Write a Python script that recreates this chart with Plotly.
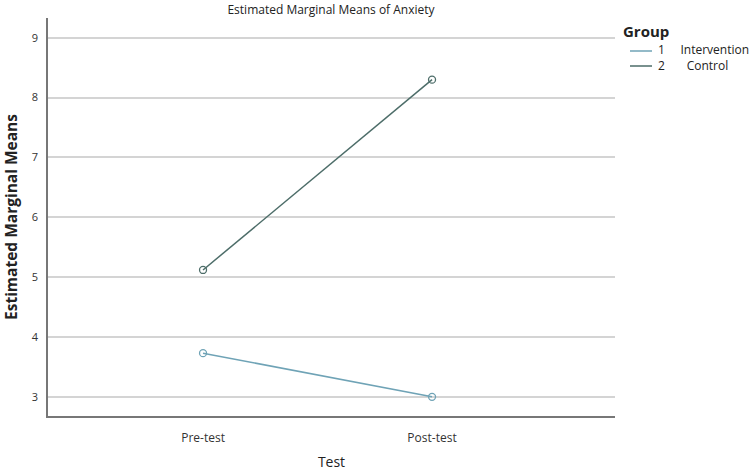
import plotly.graph_objects as go

TESTS = ["Pre-test", "Post-test"]
GROUP_NUMS = ["1", "2"]
GROUP_NAMES = ["Intervention", "Control"]
INTERVENTION = [3.73, 3.0]
CONTROL = [5.12, 8.30]
Y_TICKS = [3, 4, 5, 6, 7, 8, 9]

FONT = "Open Sans"
C_INT = "#6fa3b6"
C_CTL = "#4d6d69"
GRID = "#d4d4d4"
AXIS = "#777777"
TXT = "#222222"

W, H = 750, 471
L, R, T, B = 48, 135, 18, 55
PW, PH = W - L - R, H - T - B


def px(x):
    return (x - L) / PW


def py(y):
    return (H - B - y) / PH


fig = go.Figure()
for vals, color in [(INTERVENTION, C_INT), (CONTROL, C_CTL)]:
    fig.add_trace(
        go.Scatter(
            x=TESTS,
            y=vals,
            mode="lines+markers",
            showlegend=False,
            line=dict(color=color, width=1.5),
            marker=dict(symbol="circle-open", size=7, color=color, line=dict(width=1.3)),
        )
    )

# legend drawn by hand, SPSS style
fig.add_annotation(
    text="<b>Group</b>", xref="paper", yref="paper", x=px(622), y=py(31),
    xanchor="left", yanchor="middle", showarrow=False, font=dict(size=15, color=TXT),
    borderpad=0,
)
rows = []
for ly, gap, color, num, name in zip([51, 66], [5, 7], [C_INT, C_CTL], GROUP_NUMS, GROUP_NAMES):
    fig.add_shape(
        type="line", xref="paper", yref="paper",
        x0=px(630), x1=px(652), y0=py(ly), y1=py(ly),
        line=dict(color=color, width=1.5),
    )
    rows.append(num + "\u00a0" * gap + name)
fig.add_annotation(
    text="<br>".join(rows), xref="paper", yref="paper", x=px(657), y=py(57.5),
    xanchor="left", yanchor="middle", align="left", showarrow=False,
    font=dict(size=12, color=TXT), borderpad=0,
)

fig.update_layout(
    width=W,
    height=H,
    paper_bgcolor="white",
    plot_bgcolor="white",
    margin=dict(l=L, r=R, t=T, b=B, autoexpand=False),
    font=dict(family=FONT, color=TXT),
    title=dict(
        text="Estimated Marginal Means of Anxiety",
        x=331 / W,
        xanchor="center",
        y=1 - 10 / H,
        yanchor="middle",
        font=dict(size=12, color=TXT),
    ),
    showlegend=False,
)

fig.update_xaxes(
    type="category",
    categoryorder="array",
    categoryarray=TESTS,
    range=[-0.677, 1.799],
    showgrid=False,
    showline=True,
    linecolor=AXIS,
    linewidth=1.5,
    ticks="",
    ticklabelstandoff=10,
    tickfont=dict(size=12, color="#333333"),
    title=dict(text="Test", font=dict(size=14, color=TXT), standoff=14),
)
fig.update_yaxes(
    range=[2.68, 9.33],
    tickvals=Y_TICKS,
    showgrid=True,
    gridcolor=GRID,
    gridwidth=1.5,
    zeroline=False,
    showline=True,
    linecolor=AXIS,
    linewidth=1.5,
    ticks="",
    ticklabelstandoff=6,
    tickfont=dict(size=11, color="#333333"),
    title=dict(text="<b>Estimated Marginal Means</b>", font=dict(size=15.5, color=TXT), standoff=10),
)

fig.write_html(
    "out.html",
    config={"displayModeBar": False},
    post_script="document.body.style.margin='0';",
)
